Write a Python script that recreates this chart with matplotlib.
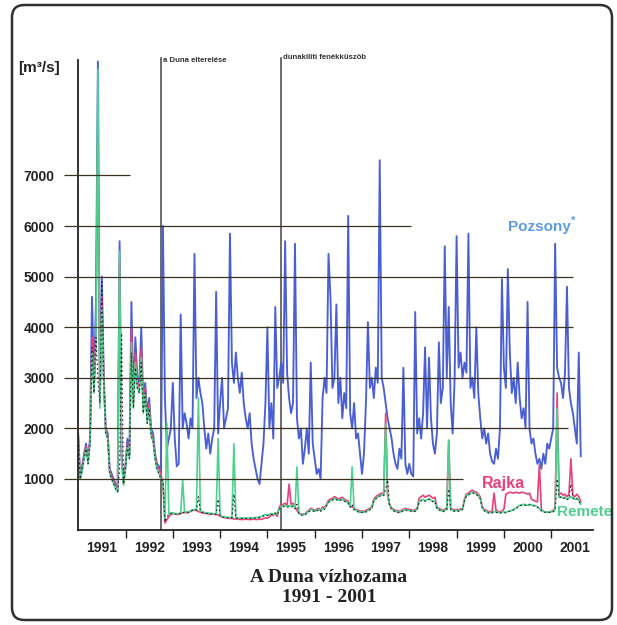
import numpy as np
import matplotlib
matplotlib.use("Agg")
import matplotlib.pyplot as plt
from matplotlib.patches import FancyBboxPatch

plt.rcParams['font.family'] = ['Liberation Sans', 'DejaVu Sans']

# ---------------- data (half-monthly readings, m3/s) ----------------
start_year = 1991
steps_per_year = 24

pozsony_1991 = [1900, 1050, 1250, 1500, 1700, 1400, 1800, 4600, 2900, 4500, 9250, 2600, 5000, 3000, 2000, 1900, 1200, 1100, 1000, 900, 780, 5700, 1500, 950]
pozsony_1992 = [1300, 1800, 1500, 4500, 2600, 3800, 3000, 2900, 4000, 2500, 2900, 2300, 2600, 2000, 1900, 1500, 1300, 1250, 1150, 6000, 2600, 1600, 1800, 2000]
pozsony_1993 = [2900, 1800, 1250, 1300, 4250, 2000, 2300, 2100, 1800, 2200, 2000, 5450, 2600, 3000, 2700, 2500, 2000, 1600, 1900, 1500, 1800, 2000, 4700, 1900]
pozsony_1994 = [2500, 3000, 2000, 2200, 2400, 5850, 3300, 2900, 3500, 3000, 2700, 3100, 2500, 2200, 2000, 2300, 1700, 1400, 1200, 1000, 900, 1300, 1700, 2500]
pozsony_1995 = [4000, 2000, 2500, 1800, 4400, 2800, 3000, 3300, 2900, 5700, 3100, 2600, 2300, 2500, 5650, 2200, 1800, 2000, 1300, 1600, 2000, 1500, 3300, 1700]
pozsony_1996 = [1400, 1100, 1200, 1000, 2600, 3000, 2700, 5450, 4600, 2800, 3000, 4450, 2500, 3000, 2200, 2700, 2400, 6200, 2300, 2000, 2500, 1800, 1900, 1500]
pozsony_1997 = [1100, 1500, 2500, 4100, 2800, 3000, 2600, 3200, 2900, 7300, 3000, 2800, 2500, 2200, 2000, 1800, 1500, 1300, 1200, 1600, 1400, 3200, 1300, 1100]
pozsony_1998 = [1300, 1100, 1050, 4300, 1900, 2200, 1800, 2300, 3600, 2000, 3400, 2200, 1700, 1500, 1900, 3700, 2500, 2800, 5600, 3000, 4400, 2500, 1900, 3000]
pozsony_1999 = [5800, 3200, 3500, 3000, 3300, 3100, 5850, 2800, 3000, 2600, 4000, 2700, 2200, 1800, 2000, 1700, 1900, 1500, 1350, 1300, 1600, 1400, 2000, 4950]
pozsony_2000 = [3200, 2800, 5150, 3500, 2700, 3000, 2500, 3300, 2600, 2200, 2400, 2000, 4500, 2000, 1700, 1800, 1500, 1300, 1400, 1200, 1500, 1300, 1700, 1600]
pozsony_2001 = [1800, 2000, 5650, 3200, 3000, 2900, 2600, 3100, 4800, 2800, 2500, 2300, 2000, 1700, 3500, 1450]

rajka_1991 = [1850, 1000, 1200, 1450, 1650, 1350, 1750, 3800, 2800, 4000, 8000, 2500, 4600, 2900, 1950, 1850, 1150, 1050, 950, 850, 760, 5300, 1400, 900]
rajka_1992 = [1250, 1700, 1450, 4000, 2500, 3500, 2900, 2800, 3600, 2400, 2800, 2200, 2500, 1900, 1800, 1450, 1250, 1200, 1100, 900, 130, 200, 250, 300]
rajka_1993 = [320, 310, 300, 300, 320, 330, 340, 330, 340, 360, 380, 390, 380, 360, 340, 330, 320, 320, 310, 300, 310, 300, 300, 290]
rajka_1994 = [260, 250, 240, 230, 230, 220, 220, 210, 210, 210, 200, 200, 200, 210, 200, 200, 200, 210, 200, 200, 210, 200, 220, 230]
rajka_1995 = [230, 250, 300, 280, 330, 260, 450, 480, 500, 520, 480, 900, 500, 520, 450, 380, 330, 300, 310, 300, 350, 380, 420, 400]
rajka_1996 = [380, 400, 420, 380, 450, 430, 500, 580, 600, 620, 650, 630, 600, 620, 640, 600, 580, 560, 470, 450, 420, 400, 380, 360]
rajka_1997 = [370, 360, 380, 400, 420, 450, 600, 650, 680, 700, 720, 700, 2300, 680, 500, 430, 400, 380, 370, 360, 380, 400, 420, 400]
rajka_1998 = [400, 390, 380, 390, 420, 620, 650, 680, 640, 660, 680, 650, 620, 640, 450, 420, 400, 380, 400, 420, 1750, 420, 400, 390]
rajka_1999 = [400, 390, 410, 420, 600, 700, 720, 760, 780, 750, 740, 700, 650, 450, 400, 380, 360, 350, 360, 720, 380, 360, 350, 370]
rajka_2000 = [400, 700, 720, 740, 730, 720, 740, 730, 720, 740, 730, 720, 700, 720, 600, 580, 560, 550, 1280, 400, 360, 350, 340, 350]
rajka_2001 = [360, 380, 420, 2700, 700, 720, 680, 700, 650, 700, 1400, 680, 650, 700, 650, 550]

remete_1991 = [1800, 1000, 1150, 1400, 1600, 1300, 1700, 3500, 2700, 3600, 9100, 2400, 4400, 2800, 1900, 1800, 1100, 1000, 900, 820, 740, 5500, 1350, 880]
remete_1992 = [1200, 1650, 1400, 3700, 2400, 3300, 2800, 2700, 3400, 2300, 2700, 2100, 2400, 1850, 1750, 1400, 1200, 1100, 1000, 950, 200, 2100, 300, 330]
remete_1993 = [330, 320, 310, 320, 330, 980, 340, 350, 350, 370, 390, 400, 390, 2600, 370, 350, 340, 330, 330, 320, 320, 310, 320, 1800]
remete_1994 = [280, 260, 250, 250, 240, 240, 240, 1700, 240, 230, 230, 230, 230, 230, 230, 230, 230, 230, 240, 240, 250, 260, 280, 300]
remete_1995 = [280, 300, 320, 300, 330, 300, 420, 450, 470, 480, 460, 470, 460, 480, 430, 1240, 320, 300, 290, 300, 330, 360, 400, 380]
remete_1996 = [360, 380, 400, 370, 420, 410, 480, 550, 570, 590, 620, 600, 580, 590, 600, 570, 550, 530, 450, 1240, 400, 380, 360, 340]
remete_1997 = [350, 340, 360, 380, 400, 430, 570, 620, 650, 670, 690, 680, 2100, 650, 480, 410, 380, 360, 350, 340, 360, 380, 400, 380]
remete_1998 = [380, 370, 360, 370, 400, 550, 580, 600, 570, 590, 610, 580, 560, 570, 420, 400, 380, 360, 380, 400, 1770, 400, 380, 370]
remete_1999 = [380, 370, 390, 400, 580, 670, 690, 720, 740, 720, 700, 670, 620, 430, 380, 360, 340, 330, 340, 360, 350, 340, 330, 350]
remete_2000 = [350, 340, 360, 370, 380, 400, 420, 450, 480, 490, 500, 490, 480, 500, 490, 480, 470, 450, 420, 380, 360, 350, 340, 350]
remete_2001 = [350, 360, 400, 2400, 640, 650, 620, 640, 600, 620, 650, 630, 600, 620, 580, 500]

black_1991 = [1850, 1000, 1200, 1400, 1600, 1300, 1700, 3600, 2700, 3800, 3000, 2500, 4900, 2900, 1900, 1800, 1100, 1000, 900, 800, 750, 1200, 3880, 900]
black_1992 = [1200, 1650, 1400, 3500, 2400, 3200, 2800, 2700, 3300, 2300, 2700, 2100, 2400, 1850, 1750, 1400, 1200, 1100, 1000, 950, 150, 250, 300, 320]
black_1993 = [320, 310, 300, 310, 320, 350, 330, 340, 340, 360, 380, 390, 380, 650, 360, 340, 330, 320, 320, 310, 310, 300, 310, 600]
black_1994 = [280, 250, 240, 240, 230, 230, 230, 700, 230, 220, 220, 220, 220, 220, 220, 220, 220, 220, 230, 230, 240, 250, 270, 290]
black_1995 = [280, 290, 300, 290, 320, 290, 400, 430, 450, 460, 440, 450, 440, 460, 410, 500, 310, 290, 280, 290, 320, 350, 380, 370]
black_1996 = [350, 370, 390, 360, 410, 400, 470, 540, 560, 580, 610, 590, 570, 580, 590, 560, 540, 520, 440, 500, 390, 370, 350, 330]
black_1997 = [340, 330, 350, 370, 390, 420, 560, 610, 640, 660, 680, 670, 800, 980, 470, 400, 370, 350, 340, 330, 350, 370, 390, 370]
black_1998 = [370, 360, 350, 360, 390, 540, 570, 590, 560, 580, 600, 570, 550, 560, 410, 390, 370, 350, 370, 390, 800, 390, 370, 360]
black_1999 = [370, 360, 380, 390, 570, 660, 680, 710, 730, 710, 690, 660, 610, 420, 370, 350, 330, 320, 330, 350, 340, 330, 320, 340]
black_2000 = [340, 330, 350, 360, 370, 390, 410, 440, 470, 480, 490, 480, 470, 490, 480, 470, 460, 440, 410, 370, 350, 340, 330, 340]
black_2001 = [340, 350, 390, 1000, 630, 640, 610, 630, 590, 610, 900, 620, 590, 610, 570, 490]

year_labels = ['1991', '1992', '1993', '1994', '1995', '1996', '1997', '1998', '1999', '2000', '2001']
y_ticks = [1000, 2000, 3000, 4000, 5000, 6000, 7000]
diversion_date = 1992.76      # a Duna elterelése
dunakiliti_date = 1995.29     # dunakiliti fenékküszöb

pozsony = np.concatenate([pozsony_1991, pozsony_1992, pozsony_1993, pozsony_1994, pozsony_1995, pozsony_1996,
                          pozsony_1997, pozsony_1998, pozsony_1999, pozsony_2000, pozsony_2001])
rajka = np.concatenate([rajka_1991, rajka_1992, rajka_1993, rajka_1994, rajka_1995, rajka_1996,
                        rajka_1997, rajka_1998, rajka_1999, rajka_2000, rajka_2001])
remete = np.concatenate([remete_1991, remete_1992, remete_1993, remete_1994, remete_1995, remete_1996,
                         remete_1997, remete_1998, remete_1999, remete_2000, remete_2001])
black = np.concatenate([black_1991, black_1992, black_1993, black_1994, black_1995, black_1996,
                        black_1997, black_1998, black_1999, black_2000, black_2001])
t = start_year + np.arange(len(pozsony)) / steps_per_year

# ---------------- figure ----------------
W, H = 617, 625
fig = plt.figure(figsize=(W / 100, H / 100), dpi=100)
fig.patch.set_facecolor('white')

def fx(px):
    return px / W

def fy(py):
    return 1 - py / H

ax_left, ax_right, ax_top, ax_bottom = 78.2, 593, 60, 529.6
ax = fig.add_axes([fx(ax_left), fy(ax_bottom), fx(ax_right - ax_left), (ax_bottom - ax_top) / H])
px_per_year = 47.3
xmax = start_year + (ax_right - ax_left) / px_per_year
ymax = (ax_bottom - ax_top) / 50.6 * 1000
ax.set_xlim(start_year, xmax)
ax.set_ylim(0, ymax)

def xyear(px):
    return start_year + (px - ax_left) / px_per_year

blue_c = '#4a5fd2'
pink_c = '#e8407a'
green_c = '#4fd08e'
grid_c = '#3a3224'

ax.plot(t, pozsony, color=blue_c, lw=1.35, zorder=2)
ax.plot(t, rajka, color=pink_c, lw=1.2, zorder=2.1)
ax.plot(t, remete, color=green_c, lw=1.2, zorder=2.2)
ax.plot(t, black, color='#222222', lw=0.8, ls=(0, (1.5, 2.5)), zorder=2.3)

# partial horizontal gridlines
grid_right_px = {1000: 463, 2000: 568, 3000: 575, 4000: 573, 5000: 573, 6000: 411, 7000: 130}
for yv in y_ticks:
    ax.plot([xyear(64), xyear(grid_right_px[yv])], [yv, yv], color=grid_c, lw=0.9,
            zorder=3, clip_on=False, solid_capstyle='butt')

# event lines
for d in (diversion_date, dunakiliti_date):
    ax.plot([d, d], [0, 9320], color='#444444', lw=1.1, zorder=1.5, clip_on=False)
ax.text(diversion_date + 0.03, 9267, 'a Duna elterelése', fontsize=5.6, fontweight='bold',
        color='#333333', va='center', ha='left', clip_on=False)
ax.text(dunakiliti_date + 0.03, 9334, 'dunakiliti fenékküszöb', fontsize=5.6, fontweight='bold',
        color='#333333', va='center', ha='left', clip_on=False)

# spines & ticks
for s in ('top', 'right'):
    ax.spines[s].set_visible(False)
ax.spines['left'].set_linewidth(1.3)
ax.spines['bottom'].set_linewidth(1.3)
ax.spines['left'].set_color('#222222')
ax.spines['bottom'].set_color('#222222')

ax.set_yticks(y_ticks)
ax.set_yticklabels([str(v) for v in y_ticks], fontsize=10, fontweight='bold', color='#222222')
ax.tick_params(axis='y', length=0, pad=17)

ax.set_xticks(np.arange(start_year + 1, start_year + len(year_labels)))
ax.set_xticklabels([])
ax.tick_params(axis='x', which='major', length=5.5, width=1.0, direction='out', color='#222222')
ax.set_xticks(np.arange(len(year_labels)) + start_year + 0.5, minor=True)
ax.set_xticklabels(year_labels, minor=True, fontsize=10, fontweight='bold', color='#222222')
ax.tick_params(axis='x', which='minor', length=0, pad=8.5)

# unit label
fig.text(fx(18), fy(68), '[m³/s]', fontsize=11, fontweight='bold', color='#222222',
         ha='left', va='center')

# series labels
tp = ax.text(xyear(508), 5990, 'Pozsony', fontsize=11, fontweight='bold', color='#5c9ae6',
             ha='left', va='center', clip_on=False)
ax.annotate('*', xy=(1.0, 0.55), xycoords=tp, fontsize=8, fontweight='bold', color='#5c9ae6',
            ha='left', va='bottom', annotation_clip=False)
ax.text(xyear(481.7), 915, 'Rajka', fontsize=11.5, fontweight='bold', color=pink_c,
        ha='left', va='center', clip_on=False)
ax.text(xyear(557), 354, 'Remete', fontsize=11, fontweight='bold', color=green_c,
        ha='left', va='center', clip_on=False)

# title
fig.text(fx(329), fy(577), 'A Duna vízhozama', fontsize=14, fontweight='bold',
         family=['Liberation Serif', 'DejaVu Serif'], color='#222222', ha='center', va='center')
fig.text(fx(329), fy(597), '1991 - 2001', fontsize=14, fontweight='bold',
         family=['Liberation Serif', 'DejaVu Serif'], color='#222222', ha='center', va='center')

# frame
frame = FancyBboxPatch((fx(12), fy(620)), fx(600), (620 - 5) / H,
                       boxstyle='round,pad=0,rounding_size=0.02', transform=fig.transFigure,
                       fill=False, edgecolor='#303030', lw=1.8)
fig.patches.append(frame)

fig.savefig('out.png', dpi=100, facecolor='white')
